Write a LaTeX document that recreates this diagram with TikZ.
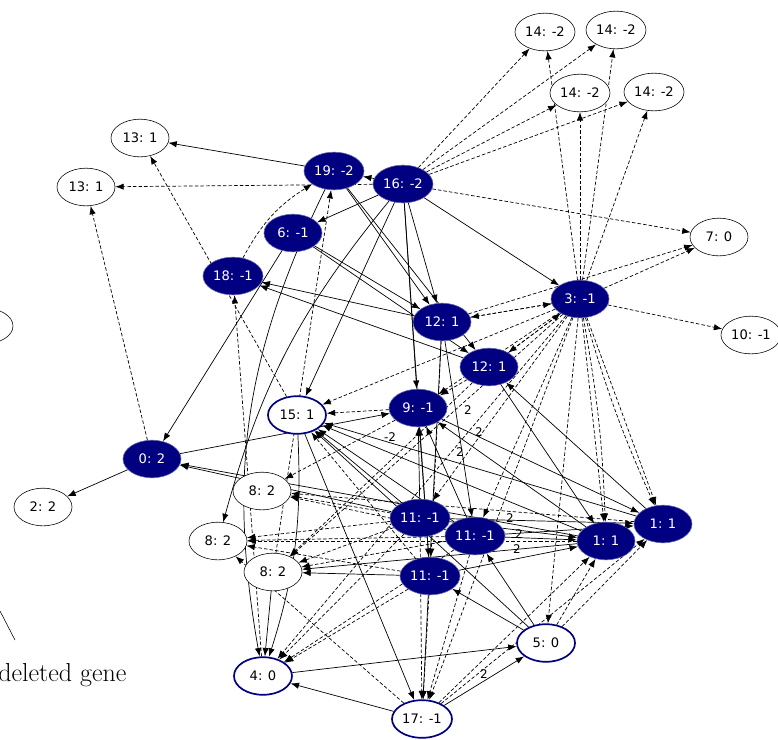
\documentclass[tikz,border=0pt]{standalone}
\usepackage{fontspec}
\setsansfont{DejaVu Sans}
\usetikzlibrary{shapes.geometric, arrows.meta, backgrounds}
\definecolor{genenavy}{RGB}{0,0,128}

\begin{document}
\begin{tikzpicture}[
    x=0.025cm, y=-0.025cm,
    gene/.style={ellipse, draw, fill=white, inner sep=1pt, minimum width=1.45cm, minimum height=0.94cm,
        font=\sffamily\fontsize{9.3}{11}\selectfont},
    on/.style={gene, fill=genenavy, draw=genenavy!60, text=white},
    gone/.style={gene, draw=genenavy, line width=1.2pt},
    act/.style={-{Latex[length=6pt, width=4.5pt]}, line width=0.5pt},
    inh/.style={act, dash pattern=on 2.5pt off 1.5pt},
    wt/.style={font=\sffamily\fontsize{8.5}{9}\selectfont, inner sep=1pt}
]
\useasboundingbox (0,0) rectangle (778,739);
\clip (0,0) rectangle (778,739);

% Legend (cut at the left edge)
\draw (-16,326) ellipse (29 and 18);
\draw (0,611) -- (15,640);
\node[anchor=west, inner sep=0pt, font=\fontsize{18.5}{22}\selectfont] (legtxt) at (-2,675) {deleted gene};

% Genes
\node[gene] (n14a) at (545,32) {14: -2};
\node[gene] (n14b) at (616,30) {14: -2};
\node[gene] (n14c) at (580,93) {14: -2};
\node[gene] (n14d) at (654,92) {14: -2};
\node[gene] (n13a) at (140,138) {13: 1};
\node[gene] (n13b) at (86,187) {13: 1};
\node[on] (n19) at (334,171) {19: -2};
\node[on] (n16) at (403,184) {16: -2};
\node[on] (n6) at (293,233) {6: -1};
\node[gene] (n7) at (719,237) {7: 0};
\node[on] (n18) at (233,276) {18: -1};
\node[on] (n3) at (580,299) {3: -1};
\node[gene] (n10) at (751,335) {10: -1};
\node[on] (n12a) at (442,322) {12: 1};
\node[on] (n12b) at (489,367) {12: 1};
\node[gone] (n15) at (297,415) {15: 1};
\node[on] (n9) at (418,408) {9: -1};
\node[on] (n0) at (152,459) {0: 2};
\node[gene] (n2) at (43,507) {2: 2};
\node[gene] (n8a) at (262,491) {8: 2};
\node[gene] (n8b) at (218,541) {8: 2};
\node[gene] (n8c) at (273,572) {8: 2};
\node[on] (n11a) at (420,518) {11: -1};
\node[on] (n11b) at (475,536) {11: -1};
\node[on] (n11c) at (430,576) {11: -1};
\node[on] (n1a) at (606,541) {1: 1};
\node[on] (n1b) at (663,524) {1: 1};
\node[gone] (n5) at (546,643) {5: 0};
\node[gone] (n4) at (263,676) {4: 0};
\node[gone] (n17) at (422,719) {17: -1};

\begin{scope}[on background layer]
% Activations
\foreach \a/\b in {16/19, 16/6, 19/13a, 16/3, 6/12a, 6/12b, 19/12a, 16/12a, 19/12b,
    16/15, 6/0, 0/2, 0/9, 12a/18, 12b/18, 11a/0, 1a/0, 8c/4, 17/4, 4/5, 17/5,
    5/11b, 5/11c, 5/15, 9/1b, 1b/12b, 1a/9, 11a/1a, 11a/1b, 11b/1a, 11c/1a, 11b/1b,
    11b/9, 11a/9, 11c/9, 12a/17, 15/17, 16/11c, 12a/11b, 11a/15, 11b/15, 1a/15,
    1b/15, 11c/8c, 1a/8c, 12b/1a, 16/9}
    \draw[act] (n\a) -- (n\b);
\draw[act] (n16) to[bend right=12] (n8b);
\draw[act] (n19) to[bend right=18] (n4);
\draw[act] (n15) to[bend left=10] (n4);

% Repressions
\foreach \a/\b in {16/14a, 16/14b, 16/14c, 16/14d, 16/7, 3/14a, 3/14b, 3/14c, 3/14d,
    3/7, 12a/7, 3/10, 3/12a, 12a/3, 3/12b, 12b/3, 16/13b, 0/13b, 15/13a, 4/18,
    17/8b, 3/9, 12b/9, 3/1a, 3/1b, 3/5, 3/11a, 3/11b, 3/15, 3/8c, 3/4, 3/17,
    11a/8a, 11a/8b, 11b/8a, 11b/8b, 11c/8b, 1b/8a, 11a/8c, 11b/8c, 1a/8b,
    11c/15, 9/15, 11a/17, 11b/17, 11c/17, 11a/4, 11b/4, 11c/4, 5/1a, 5/1b,
    17/1a, 17/1b, 12a/11c, 9/8a, 8c/19, 12b/8c}
    \draw[inh] (n\a) -- (n\b);
\draw[inh] (n18) to[bend left=15] (n19);
\draw[inh] (n3) to[bend left=4] (n1a);
\draw[inh] (n3) to[bend right=4] (n1b);
\end{scope}

% Weights
\node[wt] (w1) at (468,410) {2};
\node[wt] (w2) at (390,437) {-2};
\node[wt] (w3) at (479,432) {2};
\node[wt] (w4) at (460,452) {2};
\node[wt] (w5) at (510,518) {2};
\node[wt] (w6) at (519,534) {2};
\node[wt] (w7) at (517,549) {2};
\node[wt] (w8) at (484,674) {2};

\end{tikzpicture}
\end{document}
